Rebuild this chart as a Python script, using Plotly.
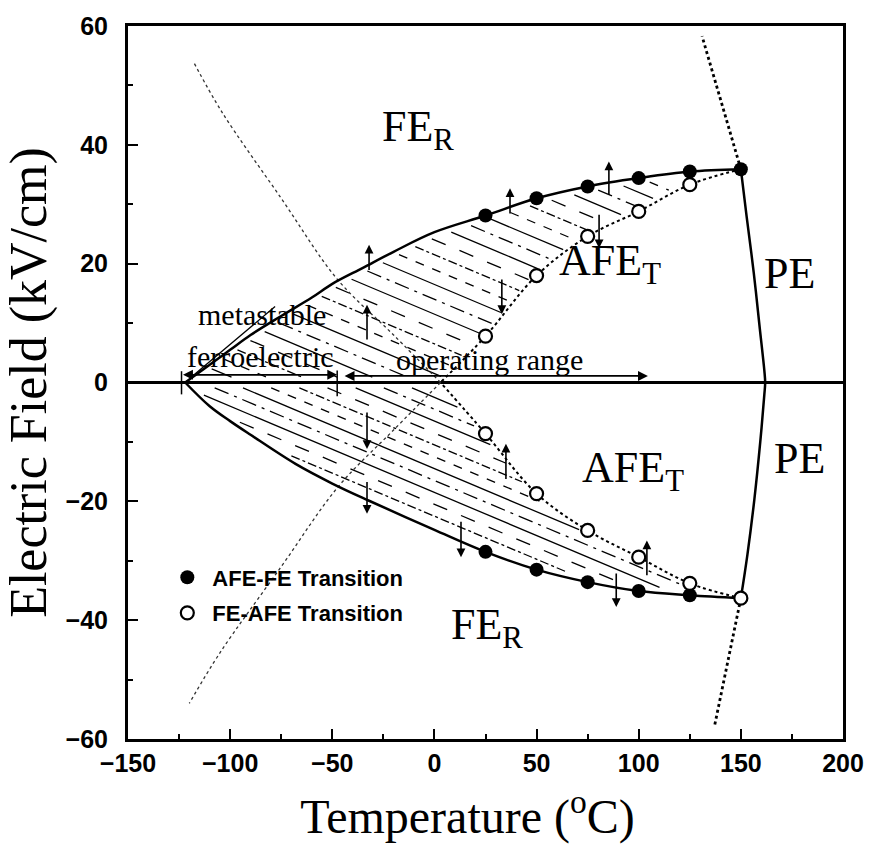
import numpy as np
import plotly.graph_objects as go

# ---------------- data ----------------
temp_pts = [25, 50, 75, 100, 125, 150]
afe_fe_pos = [28.1, 31.0, 33.0, 34.4, 35.5, 35.9]          # filled, upper
fe_afe_pos_T = [25, 50, 75, 100, 125]
fe_afe_pos = [7.8, 18.0, 24.6, 28.8, 33.3]                 # open, upper
afe_fe_neg_T = [25, 50, 75, 100, 125]
afe_fe_neg = [-28.5, -31.5, -33.6, -35.1, -35.8]           # filled, lower
fe_afe_neg = [-8.6, -18.7, -24.9, -29.4, -33.8, -36.3]     # open, lower (25..150)

# solid boundary curves
up_solid_T = [-122, -110, -100, -90, -75, -60, -50, -35, -20, 0, 25, 50, 75, 100, 125, 150]
up_solid_E = [0, 3, 5.5, 8, 11.2, 14.3, 16.6, 19.3, 22, 25.3, 28.1, 31.0, 33.0, 34.4, 35.5, 35.9]
lo_solid_T = [-122, -110, -100, -90, -68, -50, -32, 0, 25, 50, 75, 100, 125, 150]
lo_solid_E = [0, -4, -6.5, -8.8, -13.7, -17, -19.9, -24.8, -28.5, -31.5, -33.6, -35.1, -35.8, -36.3]
pe_T = [150, 152.8, 156.3, 159.3, 161.5, 161.9, 161.5, 159.5, 156.6, 153.2, 150]
pe_E = [35.9, 28, 18.5, 9, 2, 0, -2, -10, -19.7, -29, -36.3]

# dotted FE->AFE lines (main part and faint extension)
dotA_T = [150, 125, 100, 75, 50, 25, 3]
dotA_E = [35.9, 33.3, 28.8, 24.6, 18.0, 7.8, 0]
dotA_ext_T = [3, -20, -47, -75, -105, -120]
dotA_ext_E = [0, -8, -17.5, -31, -45.5, -54]
dotB_T = [150, 125, 100, 75, 50, 25, 3]
dotB_E = [-36.3, -33.8, -29.4, -24.9, -18.7, -8.6, 0]
dotB_ext_T = [3, -20, -47.6, -75, -104, -118]
dotB_ext_E = [0, 8, 17.4, 31, 45.5, 54]
# dotted extrapolated PE boundary
dotC_T = [150, 131]
dotC_E = [35.9, 58.3]
dotD_T = [150, 137]
dotD_E = [-36.3, -58]

# arrows (temperature, tail field, head field)
arrow_T = [-32, -33, 37, 85.4, 80.6, 33, -33, -33, 35, 13, 89, 104]
arrow_tail = [18.7, 7, 28.2, 31.3, 28.5, 17.6, -4.8, -16.5, -16.5, -23.2, -31.9, -32.7]
arrow_head = [23.2, 13.1, 32.7, 37.2, 22.6, 11.5, -11.2, -22.1, -10.3, -29.4, -37.8, -26.6]

# range markers
range_meta_T = [-123.8, -47.6]
range_meta_E = 1.3
range_oper_T = [-44.7, 104.5]
range_oper_E = 1.1
bar_T = [-123.8, -47.6]
bar_top = [1.9, 2.0]
bar_bot = [-2.0, -2.3]
leader_T = [-78, -119.4]
leader_E = [12.8, 0.8]

# region labels
region_text = ["FE<sub>R</sub>", "AFE<sub>T</sub>", "PE", "AFE<sub>T</sub>", "PE", "FE<sub>R</sub>"]
region_T = [-8, 86, 174, 97, 178.6, 25.7]
region_E = [42.5, 20, 18.4, -14.8, -12.8, -41.3]

hatch_slope = -0.145

# ---------------- figure ----------------
fig = go.Figure()
BLACK = "black"


def hatch_segments(lo_fn, hi_fn, cs, slope, tmin, tmax, gap=0.9):
    ts = np.linspace(tmin, tmax, 3000)
    lo = lo_fn(ts)
    hi = hi_fn(ts)
    segs = []
    for c in cs:
        e = c + slope * ts
        inside = (e > lo + gap) & (e < hi - gap)
        idx = np.where(inside)[0]
        if len(idx) == 0:
            continue
        splits = np.where(np.diff(idx) > 1)[0]
        starts = np.r_[idx[0], idx[splits + 1]]
        ends = np.r_[idx[splits], idx[-1]]
        for a, b in zip(starts, ends):
            if ts[b] - ts[a] < 4:
                continue
            segs.append((ts[a], e[a], ts[b], e[b]))
    return segs


def up_hi(t):
    return np.where(t >= -122, np.interp(t, up_solid_T, up_solid_E), -1e9)


def up_lo(t):
    return np.where(t < 3, 0.0, np.interp(t, dotA_T[::-1], dotA_E[::-1]))


def lo_hi(t):
    return np.where(t < 3, 0.0, np.interp(t, dotB_T[::-1], dotB_E[::-1]))


def lo_lo(t):
    return np.where(t >= -122, np.interp(t, lo_solid_T, lo_solid_E), 1e9)


segs_up = hatch_segments(up_lo, up_hi, np.arange(-16, 58, 2.5), hatch_slope, -122, 150)
segs_lo = hatch_segments(lo_lo, lo_hi, np.arange(-24.5, 0.5, 2.0), hatch_slope, -122, 150)

dashes = ["solid", "dash", "dashdot", "longdash", "solid", "longdashdot"]
groups = {d: ([], []) for d in dashes}
for i, (t0, e0, t1, e1) in enumerate(segs_up + segs_lo):
    d = dashes[i % len(dashes)]
    groups[d][0].extend([t0, t1, None])
    groups[d][1].extend([e0, e1, None])
for d, (xs, ys) in groups.items():
    fig.add_trace(go.Scatter(x=xs, y=ys, mode="lines", showlegend=False, hoverinfo="skip",
                             line=dict(color=BLACK, width=1.3, dash=d)))

# dotted lines
for tx, ey, w, col in [(dotA_T, dotA_E, 2, BLACK), (dotB_T, dotB_E, 2, BLACK),
                       (dotA_ext_T, dotA_ext_E, 1.3, "#333"), (dotB_ext_T, dotB_ext_E, 1.3, "#333"),
                       (dotC_T, dotC_E, 2.8, BLACK), (dotD_T, dotD_E, 2.8, BLACK)]:
    fig.add_trace(go.Scatter(x=tx, y=ey, mode="lines", showlegend=False, hoverinfo="skip",
                             line=dict(color=col, width=w, dash="dot", shape="spline")))

# solid boundaries
for tx, ey in [(up_solid_T, up_solid_E), (lo_solid_T, lo_solid_E), (pe_T, pe_E)]:
    fig.add_trace(go.Scatter(x=tx, y=ey, mode="lines", showlegend=False, hoverinfo="skip",
                             line=dict(color=BLACK, width=2.5, shape="spline")))

# range bars and leader line
for t, a, b in zip(bar_T, bar_top, bar_bot):
    fig.add_trace(go.Scatter(x=[t, t], y=[a, b], mode="lines", showlegend=False, hoverinfo="skip",
                             line=dict(color=BLACK, width=1.5)))
fig.add_trace(go.Scatter(x=leader_T, y=leader_E, mode="lines", showlegend=False, hoverinfo="skip",
                         line=dict(color=BLACK, width=1.3)))

# markers
filled = dict(symbol="circle", size=14, color=BLACK)
openm = dict(symbol="circle", size=13, color="white", line=dict(color=BLACK, width=2.2))
fig.add_trace(go.Scatter(x=temp_pts, y=afe_fe_pos, mode="markers", marker=filled,
                         name="AFE-FE Transition", legendgroup="a"))
fig.add_trace(go.Scatter(x=afe_fe_neg_T, y=afe_fe_neg, mode="markers", marker=filled,
                         showlegend=False, legendgroup="a"))
fig.add_trace(go.Scatter(x=fe_afe_pos_T, y=fe_afe_pos, mode="markers", marker=openm,
                         name="FE-AFE Transition", legendgroup="b"))
fig.add_trace(go.Scatter(x=temp_pts, y=fe_afe_neg, mode="markers", marker=openm,
                         showlegend=False, legendgroup="b"))

annotations = []
for t, e0, e1 in zip(arrow_T, arrow_tail, arrow_head):
    annotations.append(dict(x=t, y=e1, ax=t, ay=e0, xref="x", yref="y", axref="x", ayref="y",
                            text="", showarrow=True, arrowhead=2, arrowsize=1.1, arrowwidth=1.6,
                            arrowcolor=BLACK, standoff=0, startstandoff=0))
annotations.append(dict(x=range_meta_T[1], y=range_meta_E, ax=range_meta_T[0], ay=range_meta_E,
                        xref="x", yref="y", axref="x", ayref="y", text="", showarrow=True,
                        arrowhead=2, arrowsize=1.1, arrowwidth=1.8, arrowside="end+start",
                        arrowcolor=BLACK))
annotations.append(dict(x=range_oper_T[1], y=range_oper_E, ax=range_oper_T[0], ay=range_oper_E,
                        xref="x", yref="y", axref="x", ayref="y", text="", showarrow=True,
                        arrowhead=2, arrowsize=1.1, arrowwidth=1.8, arrowside="end+start",
                        arrowcolor=BLACK))

serif = "Liberation Serif"
for txt, t, e in zip(region_text, region_T, region_E):
    annotations.append(dict(x=t, y=e, xref="x", yref="y", text=txt, showarrow=False,
                            font=dict(family=serif, size=44, color=BLACK)))
for txt, t, e in [("metastable", -84.5, 11.5), ("ferroelectric", -85, 4.3), ("operating range", 27, 3.8)]:
    annotations.append(dict(x=t, y=e, xref="x", yref="y", text=txt, showarrow=False,
                            font=dict(family=serif, size=30, color=BLACK)))

tickfont = dict(family="Liberation Sans", size=25, color=BLACK, weight="bold")
axis_common = dict(showline=True, linewidth=3, linecolor=BLACK, mirror=True, showgrid=False,
                   ticks="inside", ticklen=10, tickwidth=2, tickcolor=BLACK, tickfont=tickfont)

fig.update_layout(
    width=876, height=860,
    margin=dict(l=128, r=28, t=24, b=121),
    paper_bgcolor="white", plot_bgcolor="white",
    annotations=annotations,
    xaxis=dict(range=[-150, 200], dtick=50, tick0=0, zeroline=False,
               minor=dict(ticks="inside", ticklen=5, dtick=25, tickwidth=1.5, tickcolor=BLACK),
               title=dict(text="Temperature (<sup>o</sup>C)&nbsp;&nbsp;&nbsp;",
                          font=dict(family=serif, size=48, color=BLACK), standoff=24),
               ticklabelstandoff=0, **axis_common),
    yaxis=dict(range=[-60, 60], dtick=20, tick0=0, zeroline=True, zerolinecolor=BLACK, zerolinewidth=3,
               minor=dict(ticks="inside", ticklen=5, dtick=10, tickwidth=1.5, tickcolor=BLACK),
               title=dict(text="Electric Field (kV/cm)", font=dict(family=serif, size=52, color=BLACK),
                          standoff=12),
               ticklabelstandoff=12, **axis_common),
    legend=dict(x=0.048, y=0.256, xanchor="left", yanchor="top", bgcolor="rgba(0,0,0,0)",
                font=dict(family="Liberation Sans", size=22, color=BLACK, weight="bold"),
                tracegroupgap=4, itemwidth=40),
    showlegend=True,
)

fig.write_html("out.html")
